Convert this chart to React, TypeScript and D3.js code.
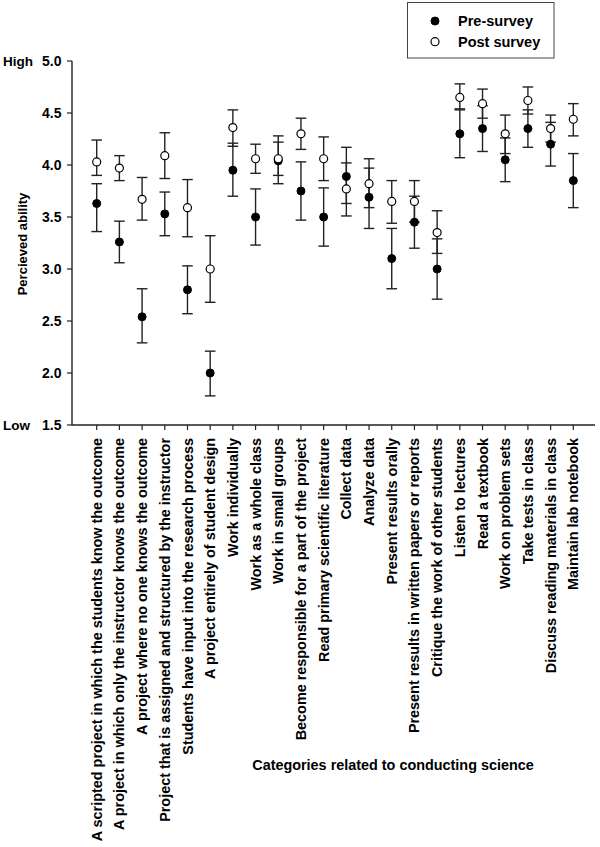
import React from "react";
import * as d3 from "d3";

const categories = [
  "A scripted project in which the students know the outcome",
  "A project in which only the instructor knows the outcome",
  "A project where no one knows the outcome",
  "Project that is assigned and structured by the instructor",
  "Students have input into the research process",
  "A project entirely of student design",
  "Work individually",
  "Work as a whole class",
  "Work in small groups",
  "Become responsible for a part of the project",
  "Read primary scientific literature",
  "Collect data",
  "Analyze data",
  "Present results orally",
  "Present results in written papers or reports",
  "Critique the work of other students",
  "Listen to lectures",
  "Read a textbook",
  "Work on problem sets",
  "Take tests in class",
  "Discuss reading materials in class",
  "Maintain lab notebook",
];

const preMean = [3.63, 3.26, 2.54, 3.53, 2.8, 2.0, 3.95, 3.5, 4.04, 3.75, 3.5, 3.89, 3.69, 3.1, 3.45, 3.0, 4.3, 4.35, 4.05, 4.35, 4.2, 3.85];
const preLow = [3.36, 3.06, 2.29, 3.32, 2.57, 1.78, 3.7, 3.23, 3.82, 3.47, 3.22, 3.63, 3.39, 2.81, 3.2, 2.71, 4.07, 4.13, 3.84, 4.17, 3.99, 3.59];
const preHigh = [3.82, 3.46, 2.81, 3.74, 3.03, 2.21, 4.21, 3.77, 4.28, 4.03, 3.78, 4.17, 3.97, 3.39, 3.7, 3.29, 4.54, 4.57, 4.26, 4.53, 4.41, 4.11];

const postMean = [4.03, 3.97, 3.67, 4.09, 3.59, 3.0, 4.36, 4.06, 4.06, 4.3, 4.06, 3.77, 3.82, 3.65, 3.65, 3.35, 4.65, 4.59, 4.3, 4.62, 4.35, 4.44];
const postLow = [3.9, 3.85, 3.47, 3.87, 3.31, 2.68, 4.18, 3.92, 3.9, 4.15, 3.85, 3.51, 3.59, 3.44, 3.45, 3.15, 4.53, 4.45, 4.11, 4.49, 4.22, 4.28];
const postHigh = [4.24, 4.09, 3.88, 4.31, 3.86, 3.32, 4.53, 4.2, 4.22, 4.45, 4.27, 4.02, 4.06, 3.85, 3.85, 3.56, 4.78, 4.73, 4.48, 4.75, 4.48, 4.59];

const yTicks = [1.5, 2.0, 2.5, 3.0, 3.5, 4.0, 4.5, 5.0];
const legendLabels = ["Pre-survey", "Post survey"];
const yTitle = "Percieved ability";
const xTitle = "Categories related to conducting science";

const FONT = "Arial, 'Liberation Sans', Helvetica, sans-serif";

export default function App() {
  const W = 600;
  const H = 847;
  const axisLeft = 72;
  const axisRight = 595;
  const y = d3.scaleLinear().domain([1.5, 5.0]).range([425, 61]);
  const x = d3.scaleLinear().domain([0, categories.length - 1]).range([96.7, 573.3]);
  const r = 4;
  const cap = 5.3;
  const stroke = "#222";

  const errBar = (i: number, lo: number, hi: number, key: string) => {
    const cx = x(i);
    return (
      <g key={key} stroke={stroke} strokeWidth={1.4}>
        <line x1={cx} x2={cx} y1={y(lo)} y2={y(hi)} />
        <line x1={cx - cap} x2={cx + cap} y1={y(lo)} y2={y(lo)} />
        <line x1={cx - cap} x2={cx + cap} y1={y(hi)} y2={y(hi)} />
      </g>
    );
  };

  return (
    <svg
      width={W}
      height={H}
      style={{ position: "absolute", left: 0, top: 0, background: "#fff" }}
      fontFamily={FONT}
    >
      <rect x={0} y={0} width={W} height={H} fill="#fff" />
      {/* Legend */}
      <g>
        <rect x={407.5} y={2.5} width={146.5} height={55.5} fill="#fff" stroke="#444" strokeWidth={1} />
        <circle cx={435} cy={21} r={r} fill="#000" stroke="#000" strokeWidth={1} />
        <circle cx={435} cy={41.7} r={r} fill="#fff" stroke="#000" strokeWidth={1.2} />
        <text x={458} y={21} dy="0.35em" fontSize={14.5} fontWeight="bold">{legendLabels[0]}</text>
        <text x={458} y={41.7} dy="0.35em" fontSize={14.5} fontWeight="bold">{legendLabels[1]}</text>
      </g>

      {/* Y axis */}
      <line x1={axisLeft} x2={axisLeft} y1={y(5.0)} y2={y(1.5)} stroke={stroke} strokeWidth={1.4} />
      {yTicks.map((t) => (
        <g key={"yt" + t}>
          <line x1={axisLeft - 5} x2={axisLeft} y1={y(t)} y2={y(t)} stroke={stroke} strokeWidth={1.2} />
          <text x={61.5} y={y(t)} dy="0.35em" textAnchor="end" fontSize={14} fontWeight="bold">
            {d3.format(".1f")(t)}
          </text>
        </g>
      ))}
      <text x={3} y={y(5.0)} dy="0.35em" fontSize={13.5} fontWeight="bold">High</text>
      <text x={3} y={y(1.5)} dy="0.35em" fontSize={13.5} fontWeight="bold">Low</text>
      <text
        transform={`translate(22,${244}) rotate(-90)`}
        textAnchor="middle"
        dy="0.35em"
        fontSize={13}
        fontWeight="bold"
      >
        {yTitle}
      </text>

      {/* X axis */}
      <line x1={axisLeft} x2={axisRight} y1={y(1.5)} y2={y(1.5)} stroke={stroke} strokeWidth={1.4} />
      {categories.map((c, i) => (
        <g key={"xt" + i}>
          <line x1={x(i)} x2={x(i)} y1={y(1.5)} y2={y(1.5) + 5} stroke={stroke} strokeWidth={1.2} />
          <text
            transform={`translate(${x(i)},438) rotate(-90)`}
            textAnchor="end"
            dy="0.35em"
            fontSize={14.4}
            fontWeight="bold"
          >
            {c}
          </text>
        </g>
      ))}
      <text x={393} y={765} dy="0.35em" textAnchor="middle" fontSize={14.4} fontWeight="bold">
        {xTitle}
      </text>

      {/* Error bars */}
      {categories.map((_, i) => errBar(i, preLow[i], preHigh[i], "pe" + i))}
      {categories.map((_, i) => errBar(i, postLow[i], postHigh[i], "po" + i))}

      {/* Points */}
      {preMean.map((v, i) => (
        <circle key={"pm" + i} cx={x(i)} cy={y(v)} r={r} fill="#000" stroke="#000" strokeWidth={1} />
      ))}
      {postMean.map((v, i) => (
        <circle key={"qm" + i} cx={x(i)} cy={y(v)} r={r} fill="#fff" stroke="#000" strokeWidth={1.2} />
      ))}
    </svg>
  );
}
